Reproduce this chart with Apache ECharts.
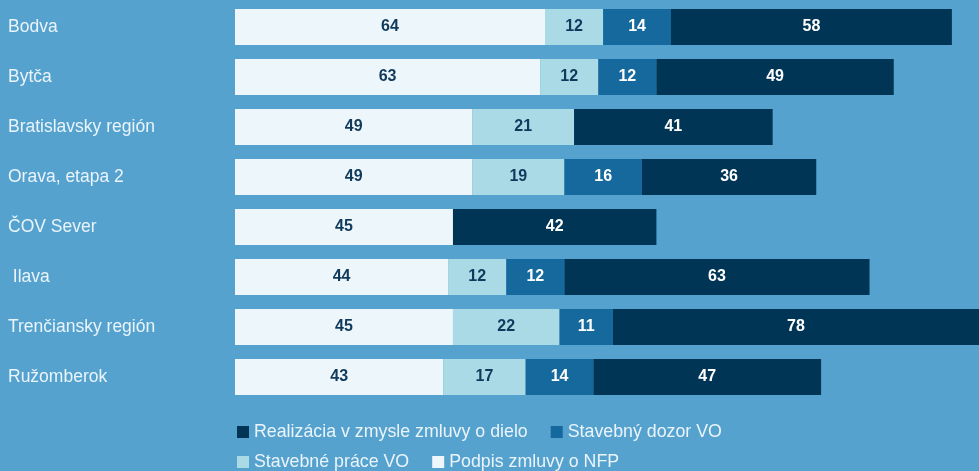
<!DOCTYPE html>
<html>
<head>
<meta charset="utf-8">
<script src="https://cdn.jsdelivr.net/npm/echarts@6/dist/echarts.min.js"></script>
<style>
  html, body { margin: 0; padding: 0; background: #55a2cf; }
  #chart { width: 979px; height: 471px; }
</style>
</head>
<body>
<div id="chart"></div>
<script>
var categories = ['Bodva', 'Bytča', 'Bratislavsky región', 'Orava, etapa 2', 'ČOV Sever', ' Ilava', 'Trenčiansky región', 'Ružomberok'];
var podpis = [64, 63, 49, 49, 45, 44, 45, 43];
var stavPrace = [12, 12, 21, 19, null, 12, 22, 17];
var stavDozor = [14, 12, null, 16, null, 12, 11, 14];
var realizacia = [58, 49, 41, 36, 42, 63, 78, 47];

var names = ['Podpis zmluvy o NFP', 'Stavebné práce VO', 'Stavebný dozor VO', 'Realizácia v zmysle zmluvy o dielo'];
var colors = ['#edf6fa', '#a9dae6', '#16699c', '#003556'];
var labelColors = ['#0f3a5c', '#0f3a5c', '#ffffff', '#ffffff'];
var font = 'Liberation Sans, Arial, sans-serif';

function makeSeries(idx, data) {
    return {
        name: names[idx],
        type: 'bar',
        stack: 'total',
        barWidth: 36,
        data: data,
        itemStyle: { color: colors[idx] },
        label: {
            show: true,
            position: 'inside',
            color: labelColors[idx],
            fontFamily: font,
            fontWeight: 'bold',
            fontSize: 16
        }
    };
}

var chart = echarts.init(document.getElementById('chart'));
var legendText = { color: '#eaf4fa', fontSize: 17.8, fontFamily: font };
var option = {
    backgroundColor: '#55a2cf',
    animation: false,
    grid: { left: 235, top: 2, right: 0, height: 400, containLabel: false },
    legend: [{
        data: [names[3], names[2]],
        left: 232, top: 418,
        icon: 'rect', itemWidth: 12, itemHeight: 12, itemGap: 23,
        textStyle: legendText
    }, {
        data: [names[1], names[0]],
        left: 232, top: 448,
        icon: 'rect', itemWidth: 12, itemHeight: 12, itemGap: 23,
        textStyle: legendText
    }],
    xAxis: {
        type: 'value', min: 0, max: 153.6,
        show: false
    },
    yAxis: {
        type: 'category',
        inverse: true,
        data: categories,
        axisLine: { show: false },
        axisTick: { show: false },
        axisLabel: {
            align: 'left',
            margin: 227,
            color: '#eaf4fa',
            fontSize: 17.5,
            fontFamily: font
        }
    },
    series: [
        makeSeries(0, podpis),
        makeSeries(1, stavPrace),
        makeSeries(2, stavDozor),
        makeSeries(3, realizacia)
    ]
};
chart.setOption(option);
</script>
</body>
</html>
